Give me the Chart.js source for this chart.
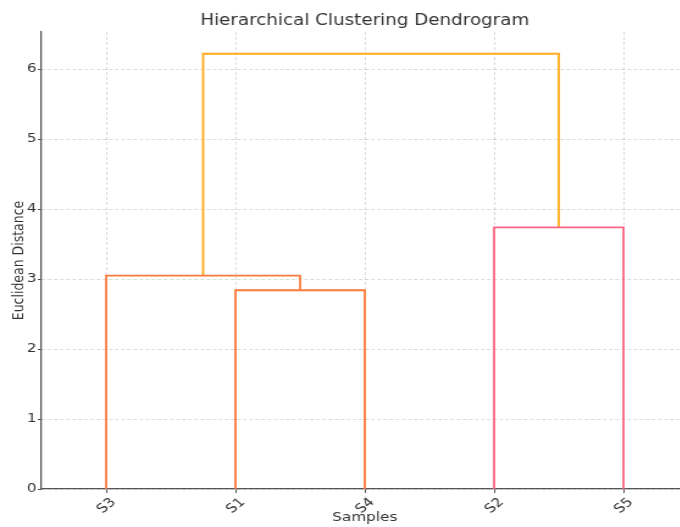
<!DOCTYPE html>
<html>
<head>
<meta charset="utf-8">
<script src="https://cdn.jsdelivr.net/npm/chart.js@4/dist/chart.umd.min.js"></script>
<style>
  html, body { margin: 0; padding: 0; background: #fff; overflow: hidden; }
  #wrap { width: 680px; height: 527px; overflow: hidden; position: relative; }
  #c { position: absolute; left: 0; top: 0; transform: scaleX(1.22); transform-origin: 0 0; }
</style>
</head>
<body>
<div id="wrap"><canvas id="c" width="567" height="527"></canvas></div>
<script>
// ---- data ----
const leaves = ['S3', 'S1', 'S4', 'S2', 'S5'];          // leaf order along x
// merges: node ids 0..4 are leaves, 5.. are merges in order
const mergeLeft = [1, 0, 3, 6];
const mergeRight = [2, 5, 4, 7];
const mergeHeights = [2.84, 3.05, 3.74, 6.22];
const linkColors = ['#fb7a3c', '#fb7a3c', '#fa6581', '#ffaa1a'];
const yTickValues = [0, 1, 2, 3, 4, 5, 6];

// ---- build dendrogram links (scipy convention: leaf i at 10*i+5) ----
const nodeX = leaves.map((_, i) => 10 * i + 5);
const nodeY = leaves.map(() => 0);
const datasets = [];
mergeHeights.forEach((h, k) => {
  const a = mergeLeft[k], b = mergeRight[k];
  nodeX.push((nodeX[a] + nodeX[b]) / 2);
  nodeY.push(h);
  datasets.push({
    data: [
      { x: nodeX[a], y: nodeY[a] },
      { x: nodeX[a], y: h },
      { x: nodeX[b], y: h },
      { x: nodeX[b], y: nodeY[b] }
    ],
    borderColor: linkColors[k],
    backgroundColor: linkColors[k],
    borderWidth: 1.8,
    pointRadius: 0,
    showLine: true,
    fill: false,
    tension: 0
  });
});
const xMax = leaves.length * 10;
const yMax = Math.max(...mergeHeights) * 1.05;

const textColor = '#333';
const spineColor = '#555';
const gridColor = 'rgba(0,0,0,0.18)';

new Chart(document.getElementById('c'), {
  type: 'scatter',
  data: { datasets },
  options: {
    responsive: false,
    devicePixelRatio: 1,
    animation: false,
    layout: { padding: { left: 0, right: 3, top: 0, bottom: 0 } },
    plugins: {
      legend: { display: false },
      tooltip: { enabled: false },
      title: {
        display: true,
        text: 'Hierarchical Clustering Dendrogram',
        fullSize: false,
        color: textColor,
        font: { family: 'DejaVu Sans', size: 15, weight: 'normal' },
        padding: { top: 12, bottom: 2 }
      }
    },
    scales: {
      x: {
        type: 'linear',
        min: 0,
        max: xMax,
        afterBuildTicks: (s) => { s.ticks = nodeX.slice(0, leaves.length).map(v => ({ value: v })); },
        afterFit: (s) => { s.height = 38; },
        ticks: {
          autoSkip: false,
          minRotation: 45,
          maxRotation: 45,
          labelOffset: 6,
          padding: 2,
          color: textColor,
          font: { family: 'DejaVu Sans', size: 12.5 },
          callback: (v) => leaves[(v - 5) / 10]
        },
        grid: {
          color: gridColor,
          lineWidth: 0.8,
          drawTicks: true,
          tickLength: 4,
          tickColor: spineColor,
          tickWidth: 1,
          tickBorderDash: []
        },
        border: { display: true, color: spineColor, width: 1.3, dash: [3, 2] },
        title: {
          display: true,
          text: 'Samples',
          color: textColor,
          font: { family: 'DejaVu Sans', size: 12.5, lineHeight: 1 },
          padding: { top: 0, bottom: 3 }
        }
      },
      y: {
        type: 'linear',
        min: 0,
        max: yMax,
        afterBuildTicks: (s) => { s.ticks = yTickValues.map(v => ({ value: v })); },
        afterFit: (s) => { s.width = 34; },
        ticks: {
          padding: 1,
          color: textColor,
          font: { family: 'DejaVu Sans', size: 12.5 },
          callback: (v) => String(v)
        },
        grid: {
          color: gridColor,
          lineWidth: 0.8,
          drawTicks: true,
          tickLength: 3,
          tickColor: spineColor,
          tickWidth: 1,
          tickBorderDash: []
        },
        border: { display: true, color: spineColor, width: 1.3, dash: [3, 2] },
        title: {
          display: true,
          text: 'Euclidean Distance',
          color: textColor,
          font: { family: 'DejaVu Sans', size: 12.5, lineHeight: 1 },
          padding: { top: 9, bottom: 0 }
        }
      }
    }
  }
});
</script>
</body>
</html>
